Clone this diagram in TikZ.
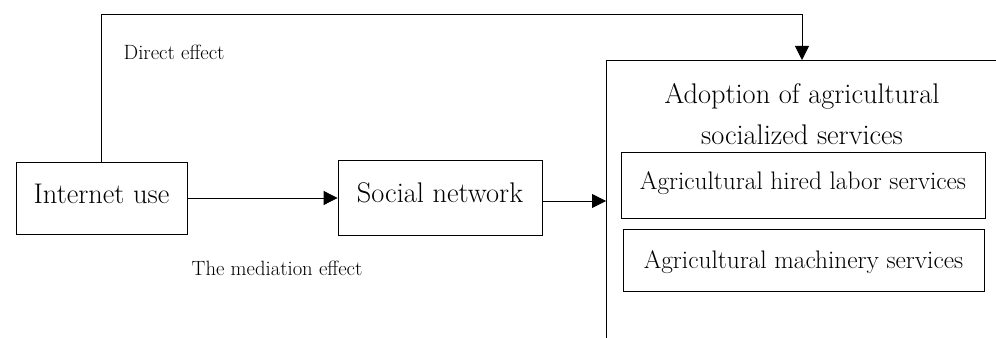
\documentclass[tikz,border=0pt]{standalone}
\usetikzlibrary{arrows.meta}
\begin{document}
\begin{tikzpicture}[x=0.75pt,y=-0.75pt,
  box/.style={draw,line width=0.6pt,rectangle,inner sep=0pt},
  big/.style={font=\fontsize{21.3}{26}\selectfont},
  mid/.style={font=\fontsize{19}{22}\selectfont},
  small/.style={font=\fontsize{15.5}{18}\selectfont},
  arr/.style={line width=0.6pt,-{Triangle[length=10.5pt,width=10.5pt]}},
  ln/.style={line width=0.6pt}]
\useasboundingbox (0,0) rectangle (996,338);
\clip (0,0) rectangle (996,338);
% outer box (cropped)
\node[box,minimum width=420*0.75pt,minimum height=300*0.75pt,anchor=north west] (adopt) at (606,60) {};
\node[big,align=center] (title) at (802,114) {Adoption of agricultural\\[5pt]socialized services};
\node[box,minimum width=364*0.75pt,minimum height=66*0.75pt] (hired) at (803,185) {};
\node[mid] at (803,183) {Agricultural hired labor services};
\node[box,minimum width=361*0.75pt,minimum height=62*0.75pt] (mach) at (803.5,260) {};
\node[mid] at (803.5,262) {Agricultural machinery services};
% left boxes
\node[box,minimum width=171*0.75pt,minimum height=72*0.75pt] (inet) at (101.5,198) {};
\node[big] at (101.5,194) {Internet use};
\node[box,minimum width=204*0.75pt,minimum height=75*0.75pt] (soc) at (440,197.5) {};
\node[big] at (440,193) {Social network};
% labels
\node[small,anchor=west] (dl) at (119,52) {Direct effect};
\node[small,anchor=west] (ml) at (187,268) {The mediation effect};
% connectors
\coordinate (c1) at (101.5,14);
\coordinate (c2) at (802,14);
\draw[ln] (inet.north) -- (c1) -- (c2);
\draw[arr] (c2) -- (802,60);
\draw[arr] (inet.east |- 0,198) -- (soc.west |- 0,198);
\draw[arr] (soc.east |- 0,201) -- (adopt.west |- 0,201);
\end{tikzpicture}
\end{document}
